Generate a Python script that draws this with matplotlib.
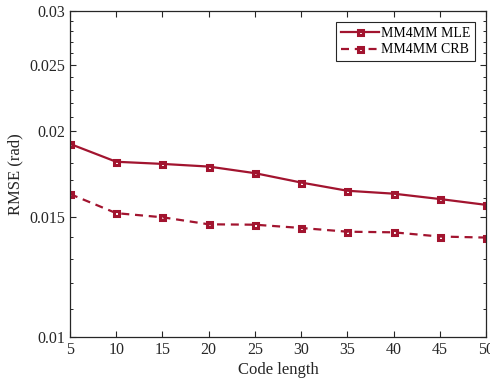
import matplotlib
matplotlib.use("Agg")
import matplotlib.pyplot as plt
from matplotlib.ticker import FixedLocator, FixedFormatter, NullFormatter

code_length = [5, 10, 15, 20, 25, 30, 35, 40, 45, 50]
mle = [0.01917, 0.01805, 0.01792, 0.01776, 0.01737, 0.01683, 0.01637, 0.01621, 0.01592, 0.01561]
crb = [0.01619, 0.01518, 0.01497, 0.01462, 0.01460, 0.01444, 0.01426, 0.01423, 0.01403, 0.01398]
y_major = [0.01, 0.015, 0.02, 0.025, 0.03]
y_major_labels = ["0.01", "0.015", "0.02", "0.025", "0.03"]
y_minor = [0.011, 0.012, 0.013, 0.014, 0.016, 0.017, 0.018, 0.019,
           0.021, 0.022, 0.023, 0.024, 0.026, 0.027, 0.028, 0.029]
x_ticks = [5, 10, 15, 20, 25, 30, 35, 40, 45, 50]

color = "#A2142F"
plt.rcParams['font.family'] = ['Liberation Serif', 'DejaVu Serif']
plt.rcParams['font.size'] = 11.5

fig = plt.figure(figsize=(4.9, 3.88), dpi=100)
ax = fig.add_axes([70/490, 1-337/388, (486-70)/490, (337-11)/388])

ax.plot(code_length, mle, '-', color=color, lw=1.6, marker='s', ms=3.6,
        mfc='none', mec=color, mew=2.2, label='MM4MM MLE')
ax.plot(code_length, crb, '--', color=color, lw=1.6, marker='s', ms=3.6,
        mfc='none', mec=color, mew=2.2, dashes=(3.6, 2.6), label='MM4MM CRB')

ax.set_yscale('log')
ax.set_ylim(0.01, 0.03)
ax.set_xlim(5, 50)
ax.yaxis.set_major_locator(FixedLocator(y_major))
ax.yaxis.set_major_formatter(FixedFormatter(y_major_labels))
ax.yaxis.set_minor_locator(FixedLocator(y_minor))
ax.yaxis.set_minor_formatter(NullFormatter())
ax.set_xticks(x_ticks)
ax.set_xticklabels([str(v) for v in x_ticks])

ax.tick_params(which='both', direction='in', top=True, right=True,
               colors='#262626', labelcolor='#262626')
ax.tick_params(which='major', length=4.5, width=0.8)
ax.tick_params(which='minor', length=2.5, width=0.7)
for s in ax.spines.values():
    s.set_color('#262626')
    s.set_linewidth(0.9)

ax.set_xlabel('Code length', color='#262626', labelpad=3, fontsize=12)
ax.set_ylabel('RMSE (rad)', color='#262626', labelpad=4, fontsize=12)

leg = ax.legend(loc='upper right', fontsize=10, frameon=True, fancybox=False,
                borderaxespad=0.8, handlelength=2.7, handletextpad=0.15,
                borderpad=0.35, labelspacing=0.25)
leg.get_frame().set_edgecolor('#262626')
leg.get_frame().set_linewidth(0.8)
leg.get_frame().set_alpha(1)

fig.savefig('out.png', dpi=100)
